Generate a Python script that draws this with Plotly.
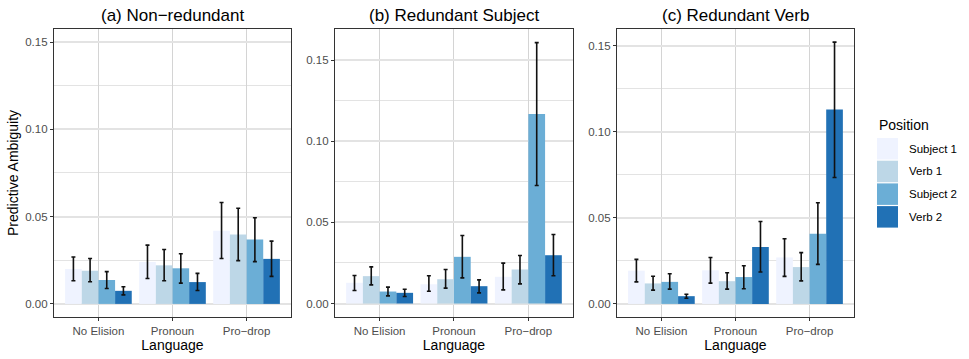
import plotly.graph_objects as go

# categorias y series
languages = ["No Elision", "Pronoun", "Pro\u2212drop"]
positions = ["Subject 1", "Verb 1", "Subject 2", "Verb 2"]
colors = ["#EFF3FF", "#BDD7E7", "#6BAED6", "#2171B5"]
panel_titles = ["(a) Non\u2212redundant", "(b) Redundant Subject", "(c) Redundant Verb"]

# (a) Non-redundant: filas = posicion, columnas = idioma
a_mean = [[0.0200, 0.0240, 0.0419],
          [0.0190, 0.0221, 0.0398],
          [0.0137, 0.0204, 0.0369],
          [0.0075, 0.0125, 0.0258]]
a_low = [[0.0133, 0.0146, 0.0260],
         [0.0127, 0.0133, 0.0248],
         [0.0088, 0.0119, 0.0242],
         [0.0052, 0.0077, 0.0158]]
a_high = [[0.0269, 0.0337, 0.0581],
          [0.0260, 0.0312, 0.0548],
          [0.0185, 0.0287, 0.0494],
          [0.0098, 0.0175, 0.0360]]

# (b) Redundant Subject
b_mean = [[0.0128, 0.0119, 0.0165],
          [0.0169, 0.0150, 0.0210],
          [0.0074, 0.0288, 0.1169],
          [0.0066, 0.0107, 0.0298]]
b_low = [[0.0080, 0.0076, 0.0084],
         [0.0115, 0.0095, 0.0121],
         [0.0047, 0.0158, 0.0728],
         [0.0043, 0.0066, 0.0171]]
b_high = [[0.0173, 0.0171, 0.0249],
          [0.0226, 0.0210, 0.0296],
          [0.0101, 0.0420, 0.1609],
          [0.0088, 0.0146, 0.0426]]

# (c) Redundant Verb
c_mean = [[0.0193, 0.0195, 0.0270],
          [0.0119, 0.0132, 0.0214],
          [0.0128, 0.0156, 0.0407],
          [0.0045, 0.0331, 0.1130]]
c_low = [[0.0128, 0.0121, 0.0160],
         [0.0080, 0.0086, 0.0134],
         [0.0086, 0.0088, 0.0230],
         [0.0033, 0.0185, 0.0734]]
c_high = [[0.0259, 0.0270, 0.0379],
          [0.0161, 0.0181, 0.0298],
          [0.0175, 0.0222, 0.0588],
          [0.0056, 0.0479, 0.1521]]

paneles = [(a_mean, a_low, a_high), (b_mean, b_low, b_high), (c_mean, c_low, c_high)]
y_ranges = [[-0.0075, 0.1575], [-0.0083, 0.1693], [-0.0076, 0.1597]]
x_domains = [[0.0557, 0.3003], [0.3457, 0.5913], [0.6367, 0.8813]]
y_domain = [0.117, 0.9192]

FONT = "Liberation Sans, Arial, sans-serif"

fig = go.Figure()

for p, (means, lows, highs) in enumerate(paneles):
    suf = "" if p == 0 else str(p + 1)
    for i, pos in enumerate(positions):
        fig.add_trace(go.Bar(
            x=languages, y=means[i], name=pos,
            marker=dict(color=colors[i], line=dict(width=0)),
            error_y=dict(type="data", symmetric=False,
                         array=[h - m for h, m in zip(highs[i], means[i])],
                         arrayminus=[m - l for m, l in zip(means[i], lows[i])],
                         color="#111111", thickness=1.6, width=2),
            xaxis="x" + suf, yaxis="y" + suf,
            offsetgroup=str(i), showlegend=False,
        ))

layout = dict(
    width=969, height=359,
    margin=dict(l=0, r=0, t=0, b=0, autoexpand=False),
    plot_bgcolor="white", paper_bgcolor="white",
    barmode="group", bargap=0.1, bargroupgap=0,
    font=dict(family=FONT, color="#000000"),
)

for p in range(3):
    suf = "" if p == 0 else str(p + 1)
    layout["xaxis" + suf] = dict(
        domain=x_domains[p], anchor="y" + suf, automargin=False,
        range=[-0.6, 2.6], type="category",
        showline=True, mirror=True, linecolor="#333333", linewidth=1.2,
        showgrid=True, gridcolor="#D4D4D4", gridwidth=1,
        ticks="outside", ticklen=3, tickcolor="#333333",
        tickfont=dict(size=11.5, color="#4D4D4D"),
        title=dict(text="Language", font=dict(size=14), standoff=0),
    )
    ytitle = dict(text="Predictive Ambiguity", font=dict(size=14), standoff=3) if p == 0 else None
    layout["yaxis" + suf] = dict(
        domain=y_domain, anchor="x" + suf, automargin=False,
        range=y_ranges[p],
        showline=True, mirror=True, linecolor="#333333", linewidth=1.2,
        showgrid=True, gridcolor="#E3E3E3", gridwidth=2,
        zeroline=False,
        tickvals=[0, 0.05, 0.10, 0.15], ticktext=["0.00", "0.05", "0.10", "0.15"],
        ticks="outside", ticklen=3, tickcolor="#333333",
        tickfont=dict(size=11.5, color="#4D4D4D"),
        minor=dict(tickvals=[0.025, 0.075, 0.125], showgrid=True,
                   gridcolor="#E3E3E3", gridwidth=1, ticks=""),
        title=ytitle,
    )

fig.update_layout(**layout)

# titulos de cada panel
for p in range(3):
    fig.add_annotation(
        x=sum(x_domains[p]) / 2, y=(359 - 15) / 359, xref="paper", yref="paper",
        text=panel_titles[p], showarrow=False, font=dict(size=17, color="black"),
        xanchor="center", yanchor="middle",
    )

# leyenda manual estilo ggplot
fig.add_annotation(x=877 / 969, y=(359 - 125) / 359, xref="paper", yref="paper",
                   text="Position", showarrow=False, xanchor="left", yanchor="middle",
                   font=dict(size=14, color="black"))
for i, pos in enumerate(positions):
    top = 138 + i * 22.7
    fig.add_shape(type="rect", xref="paper", yref="paper",
                  x0=877 / 969, x1=898 / 969,
                  y0=(359 - top - 21.5) / 359, y1=(359 - top) / 359,
                  fillcolor=colors[i], line=dict(width=0))
    fig.add_annotation(x=907 / 969, y=(359 - top - 10.75) / 359, xref="paper", yref="paper",
                       text=pos, showarrow=False, xanchor="left", yanchor="middle",
                       font=dict(size=11.5, color="black"))

# quitar el margen del body para que la figura ocupe la ventana
fig.write_html("out.html", config={"displayModeBar": False},
               post_script="document.body.style.margin='0';")
